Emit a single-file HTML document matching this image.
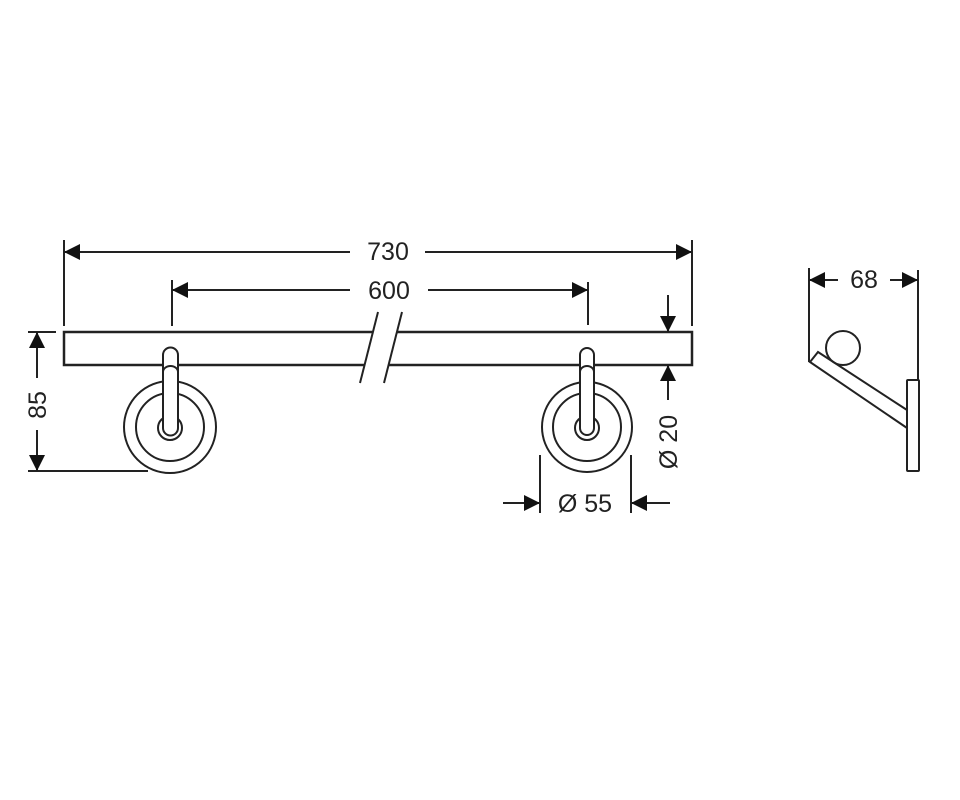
<!DOCTYPE html>
<html><head><meta charset="utf-8"><style>
html,body{margin:0;padding:0;background:#fff;}
svg{display:block;}
text{font-family:"Liberation Sans",sans-serif;font-size:25px;fill:#222;}
</style></head><body>
<svg width="960" height="800" viewBox="0 0 960 800" xmlns="http://www.w3.org/2000/svg">
<defs>
<marker id="a" viewBox="0 0 10 10" refX="10" refY="5" markerWidth="16" markerHeight="16" markerUnits="userSpaceOnUse" orient="auto-start-reverse"><path d="M0,0 L10,5 L0,10 z" fill="#111"/></marker>
</defs>
<g stroke="#222" stroke-width="2" fill="none">
<!-- bar -->
<rect x="64" y="332" width="628" height="33" stroke-width="2.5"/>
<polygon points="378,310 402,310 383,385 359,385" fill="#fff" stroke="none"/>
<line x1="378" y1="312" x2="360" y2="383"/>
<line x1="402" y1="312" x2="384" y2="383"/>
<!-- 730 -->
<line x1="64" y1="240" x2="64" y2="326"/>
<line x1="692" y1="240" x2="692" y2="326"/>
<line x1="64" y1="252" x2="350" y2="252" marker-start="url(#a)"/>
<line x1="425" y1="252" x2="692" y2="252" marker-end="url(#a)"/>
<!-- 600 -->
<line x1="172" y1="280" x2="172" y2="326"/>
<line x1="588" y1="282" x2="588" y2="325"/>
<line x1="172" y1="290" x2="350" y2="290" marker-start="url(#a)"/>
<line x1="428" y1="290" x2="588" y2="290" marker-end="url(#a)"/>
<!-- 85 -->
<line x1="28" y1="332" x2="56" y2="332"/>
<line x1="28" y1="471" x2="148" y2="471"/>
<line x1="37" y1="332" x2="37" y2="378" marker-start="url(#a)"/>
<line x1="37" y1="430" x2="37" y2="471" marker-end="url(#a)"/>
<!-- left hook -->
<circle cx="170" cy="427" r="46"/>
<circle cx="170" cy="427" r="34"/>
<circle cx="170" cy="428" r="12"/>
<path d="M163,355 A7.5,7.5 0 0 1 178,355 L178,428 A7.5,7.5 0 0 1 163,428 Z" fill="#fff"/>
<path d="M163,372 A7.5,6 0 0 1 178,372"/>
<!-- right hook -->
<circle cx="587" cy="427" r="45"/>
<circle cx="587" cy="427" r="34"/>
<circle cx="587" cy="428" r="12"/>
<path d="M580,355 A7,7 0 0 1 594,355 L594,428 A7,7 0 0 1 580,428 Z" fill="#fff"/>
<path d="M580,372 A7,6 0 0 1 594,372"/>
<!-- Ø20 -->
<line x1="668" y1="295" x2="668" y2="332" marker-end="url(#a)"/>
<line x1="668" y1="400" x2="668" y2="365" marker-end="url(#a)"/>
<!-- Ø55 -->
<line x1="540" y1="455" x2="540" y2="513"/>
<line x1="631" y1="455" x2="631" y2="513"/>
<line x1="503" y1="503" x2="540" y2="503" marker-end="url(#a)"/>
<line x1="670" y1="503" x2="631" y2="503" marker-end="url(#a)"/>
<!-- side view -->
<line x1="809" y1="268" x2="809" y2="362"/>
<line x1="918" y1="270" x2="918" y2="380"/>
<line x1="809" y1="280" x2="838" y2="280" marker-start="url(#a)"/>
<line x1="890" y1="280" x2="918" y2="280" marker-end="url(#a)"/>
<circle cx="843" cy="348" r="17"/>
<rect x="907" y="380" width="12" height="91" rx="1"/>
<path d="M907,410 L818,352 L810,362 L907,428"/>
</g>
<text x="388" y="260" text-anchor="middle">730</text>
<text x="389" y="299" text-anchor="middle">600</text>
<text x="585" y="512" text-anchor="middle">Ø 55</text>
<text x="864" y="288" text-anchor="middle">68</text>
<text transform="translate(46,405) rotate(-90)" text-anchor="middle">85</text>
<text transform="translate(677,442) rotate(-90)" text-anchor="middle">Ø 20</text>
</svg>
</body></html>
